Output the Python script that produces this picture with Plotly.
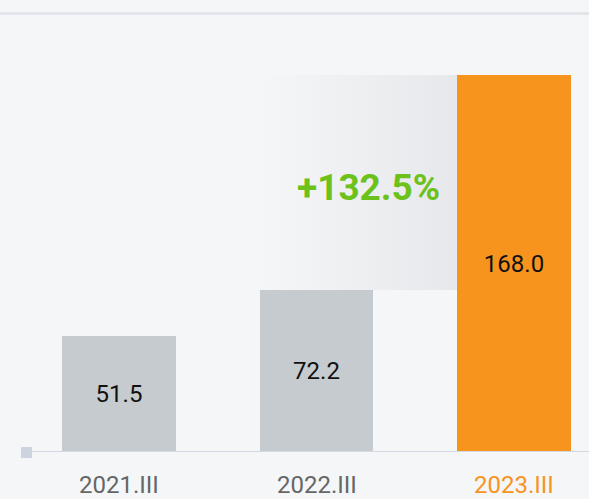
import plotly.graph_objects as go

categories = ["2021.III", "2022.III", "2023.III"]
values = [51.5, 72.2, 168.0]
value_labels = ["51.5", "72.2", "168.0"]
bar_colors = ["#c6cbcf", "#c6cbcf", "#f7941d"]
tick_colors = ["#666666", "#666666", "#f7941d"]
growth_label = "+132.5%"

W, H = 589, 499
BG = "#f5f6f8"
FONT = "Roboto"
bar_w = 0.577
xs = list(range(len(categories)))

px_per_unit = 2.244
x_px_unit = 197.5
x0_px = 119
plot_h = 452
x_range = [-x0_px / x_px_unit, (W - x0_px) / x_px_unit]
y_range = [0, plot_h / px_per_unit]

fig = go.Figure()

# gradient band between 2022 and 2023 bar tops
gx0 = xs[1] - bar_w / 2
gx1 = xs[2] - bar_w / 2
fig.add_trace(go.Scatter(
    x=[gx0, gx1, gx1, gx0, gx0],
    y=[values[1], values[1], values[2], values[2], values[1]],
    mode="lines", line=dict(width=0), fill="toself",
    fillgradient=dict(type="horizontal",
                      colorscale=[[0, "rgba(245,246,248,1)"], [1, "rgba(231,232,235,1)"]]),
    hoverinfo="skip", showlegend=False,
))

fig.add_trace(go.Bar(
    x=xs, y=values, width=bar_w,
    marker=dict(color=bar_colors, line=dict(width=0)),
    text=value_labels, textposition="inside", insidetextanchor="middle",
    textfont=dict(size=24, color="#111111", family=FONT),
    textangle=0, cliponaxis=False, showlegend=False, hoverinfo="skip",
))

# growth label
fig.add_annotation(
    x=(368 - x0_px) / x_px_unit, y=(plot_h - 187) / px_per_unit,
    text=growth_label, showarrow=False,
    font=dict(size=37, color="#6cc11b", family=FONT, weight=700),
)

# x tick labels
for i, c in enumerate(categories):
    fig.add_annotation(
        x=xs[i], y=0, yref="y", text=c, showarrow=False, yshift=-33,
        font=dict(size=24, color=tick_colors[i], family=FONT),
    )

# axis line and square marker
line_x0 = (22 - x0_px) / x_px_unit
fig.add_shape(type="line", x0=line_x0, x1=x_range[1], y0=0, y1=0,
              line=dict(color="#d3d8e2", width=2), layer="above")
fig.add_shape(type="rect", xref="x", yref="paper",
              x0=(21 - x0_px) / x_px_unit, x1=(32 - x0_px) / x_px_unit,
              y0=-6 / plot_h, y1=5 / plot_h,
              fillcolor="#cdd3df", line=dict(width=0), layer="above")
# top border line
fig.add_shape(type="rect", xref="paper", yref="paper",
              x0=0, x1=1, y0=(plot_h - 15) / plot_h, y1=(plot_h - 12) / plot_h,
              fillcolor="#e3e5eb", line=dict(width=0), layer="above")

fig.update_layout(
    width=W, height=H,
    margin=dict(l=0, r=0, t=0, b=H - plot_h),
    paper_bgcolor=BG, plot_bgcolor=BG,
    xaxis=dict(range=x_range, showgrid=False, zeroline=False, showticklabels=False,
               showline=False, fixedrange=True),
    yaxis=dict(range=y_range, showgrid=False, zeroline=False, showticklabels=False,
               showline=False, fixedrange=True),
    bargap=0,
)

fig.write_html("out.html", config={"displayModeBar": False},
               post_script="document.body.style.margin='0';document.body.style.overflow='hidden';")
